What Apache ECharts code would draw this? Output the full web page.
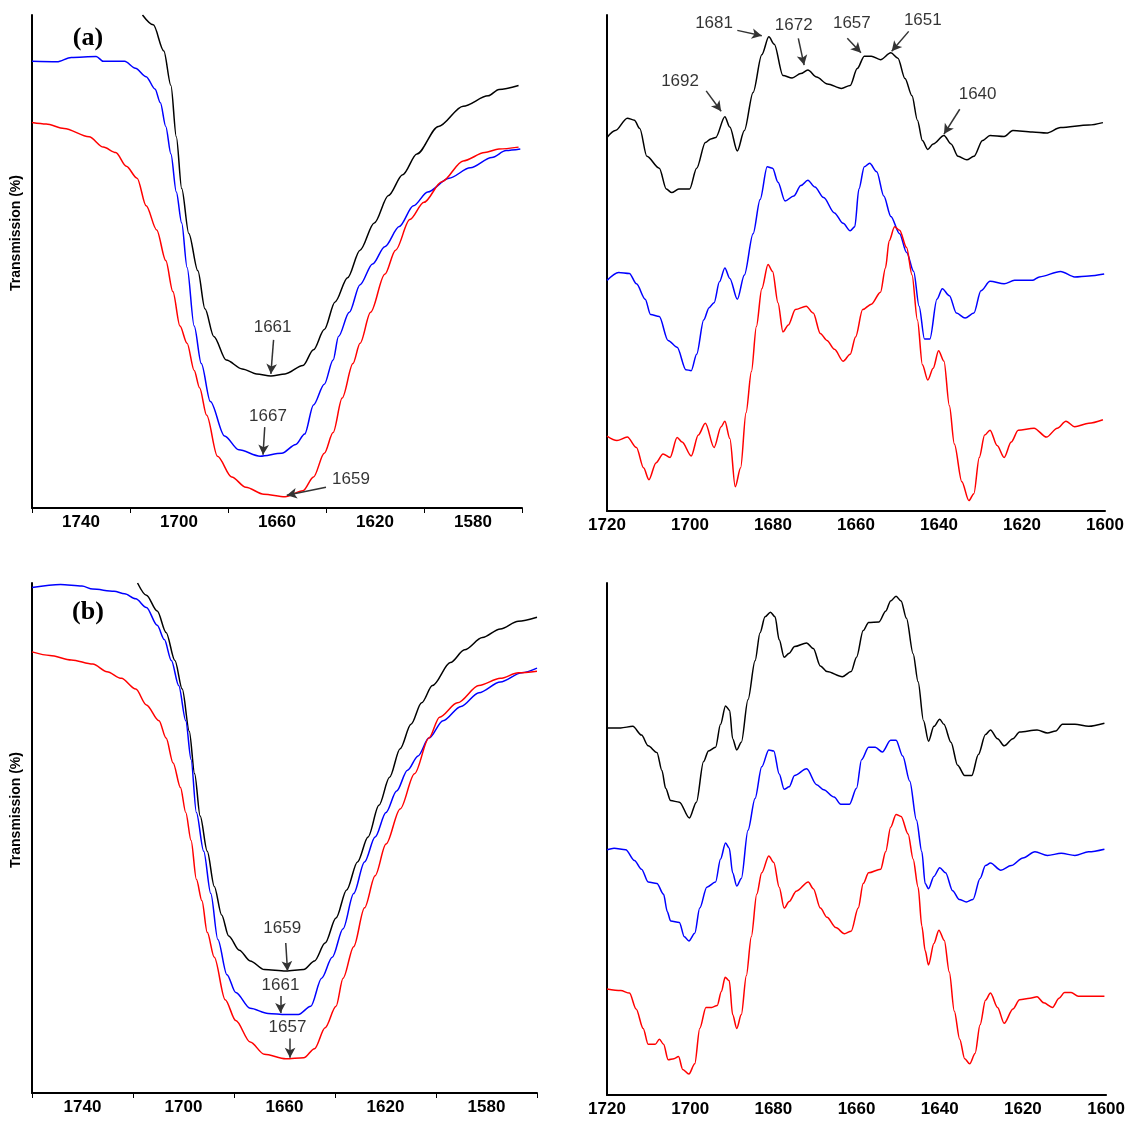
<!DOCTYPE html>
<html>
<head>
    <meta charset="utf-8">
    <title>FTIR amide I</title>
    <script src="https://cdn.jsdelivr.net/npm/echarts@6/dist/echarts.min.js"></script>
</head>
<body style="margin:0;background:#fff">
    <div id="main" style="width:1128px;height:1124px;"></div>
    <script type="text/javascript">
        // tick positions (cm-1)
        const leftTickMarks = [1760, 1720, 1680, 1640, 1600, 1560]
        const leftTickLabels = [1740, 1700, 1660, 1620, 1580]
        const rightTickLabels = [1720, 1700, 1680, 1660, 1640, 1620, 1600]

        // (a) original spectra, [wavenumber, relative transmission]
        const aLeftBlack = [[1714.9, 100], [1710.5, 98], [1706.2, 92.7], [1703.3, 85.7], [1701.1, 75.3], [1698.9, 64.8], [1696.0, 55.7], [1692.3, 48.1], [1689.4, 40.4], [1685.8, 34.8], [1680.7, 30.0], [1674.2, 28.2], [1668.3, 27.2], [1662.5, 26.8], [1656.7, 27.2], [1649.4, 28.9], [1645.1, 32.1], [1640.7, 36.2], [1636.3, 41.8], [1631.2, 46.7], [1626.1, 52.3], [1620.3, 57.8], [1614.5, 63.4], [1608.7, 67.6], [1602.9, 71.8], [1594.1, 77.4], [1584.0, 81.5], [1573.8, 83.6], [1569.4, 84.9], [1561.4, 85.7]]
        const aLeftBlue = [[1760, 90.6], [1749.8, 90.5], [1744, 91.4], [1733.8, 91.6], [1730.9, 90.6], [1722.2, 90.6], [1717.8, 89.2], [1713.4, 87.5], [1709.8, 85.0], [1707.6, 82.2], [1705.4, 77.4], [1703.3, 71.8], [1701.1, 64.1], [1698.9, 57.8], [1696.7, 48.8], [1693.8, 36.9], [1690.9, 29.3], [1687.2, 21.6], [1681.4, 14.6], [1675.6, 11.8], [1666.9, 10.5], [1658.1, 11.1], [1652.3, 12.9], [1648.7, 15.0], [1645.1, 20.9], [1640.7, 25.1], [1637.1, 30.0], [1634.9, 34.8], [1630.5, 39.7], [1626.1, 45.3], [1621.0, 49.5], [1616.0, 53.0], [1610.1, 57.1], [1604.3, 61.3], [1598.5, 64.1], [1589.8, 66.9], [1581.1, 69.0], [1572.3, 71.1], [1566.5, 72.5], [1560.7, 72.8]]
        const aLeftRed = [[1760, 78.2], [1754.2, 77.9], [1746.9, 77.0], [1736.7, 75.3], [1730.9, 73.2], [1725.8, 72.1], [1721.5, 69.3], [1717.1, 66.9], [1713.4, 61.3], [1709.1, 56.4], [1705.4, 50.2], [1702.5, 43.9], [1699.6, 36.9], [1696.7, 33.4], [1693.8, 27.9], [1691.6, 24.4], [1688.7, 18.8], [1684.3, 10.5], [1678.5, 6.3], [1672.7, 4.2], [1665.4, 2.8], [1656.7, 2.3], [1649.4, 3.5], [1645.1, 6.3], [1640.7, 11.1], [1637.1, 15.3], [1633.4, 22.3], [1629.0, 29.3], [1626.1, 33.4], [1621.8, 39.7], [1616.0, 47.4], [1611.6, 52.3], [1605.8, 58.5], [1600.0, 62.0], [1592.7, 66.2], [1584.0, 70.4], [1575.2, 72.1], [1569.4, 72.8], [1561.4, 73.2]]

        // (a) second derivative spectra
        const aRightBlack = [[1720, 75.3], [1718.0, 76.7], [1715.1, 79.2], [1713.4, 78.8], [1712.1, 77.1], [1710.4, 71.5], [1707.4, 69.1], [1705.7, 64.9], [1704.4, 64.2], [1702.7, 64.9], [1700.1, 64.9], [1698.4, 69.1], [1696.3, 74.3], [1695.0, 75.0], [1693.8, 75.3], [1691.6, 79.5], [1690.4, 77.4], [1688.6, 72.6], [1686.9, 76.7], [1684.8, 84.4], [1682.7, 92.0], [1681.0, 95.6], [1679.7, 94.1], [1677.6, 87.8], [1675.4, 87.3], [1673.3, 88.2], [1671.6, 88.9], [1669.5, 87.5], [1666.9, 86.1], [1663.5, 85.2], [1661.4, 85.8], [1659.7, 89.2], [1658.0, 91.7], [1656.3, 91.7], [1654.1, 91.0], [1651.6, 92.4], [1649.9, 91.3], [1648.2, 87.2], [1646.5, 83.7], [1645.2, 78.8], [1644.0, 74.7], [1642.7, 72.9], [1641.4, 74.0], [1638.8, 75.7], [1637.1, 74.0], [1635.4, 71.5], [1633.3, 70.8], [1631.6, 71.5], [1629.5, 74.7], [1627.7, 75.7], [1624.3, 75.5], [1622.2, 76.7], [1617.5, 76.4], [1614.1, 76.2], [1610.7, 77.3], [1603.9, 77.8], [1600.5, 78.3]]
        const aRightBlue = [[1720, 46.5], [1717.2, 48.1], [1714.6, 47.9], [1712.9, 45.8], [1710.8, 42.7], [1709.5, 39.6], [1707.4, 39.2], [1705.3, 34.4], [1703.1, 33.0], [1701.0, 28.5], [1699.7, 28.3], [1698.4, 31.6], [1696.7, 38.5], [1695.4, 41.0], [1694.2, 42.0], [1692.9, 46.2], [1691.6, 49.0], [1690.4, 46.9], [1688.6, 42.7], [1686.9, 47.6], [1684.8, 55.9], [1683.1, 62.8], [1681.4, 69.4], [1680.1, 69.1], [1678.8, 66.3], [1677.1, 62.5], [1675.0, 63.5], [1673.3, 65.6], [1671.6, 66.7], [1669.9, 65.3], [1667.8, 63.2], [1665.2, 60.1], [1663.1, 58.0], [1661.4, 56.5], [1660.3, 57.3], [1659.3, 64.9], [1658.0, 69.4], [1656.7, 70.1], [1655.0, 68.4], [1653.3, 63.5], [1651.6, 59.4], [1649.5, 55.9], [1647.8, 52.1], [1646.1, 48.3], [1644.8, 41.3], [1643.5, 34.7], [1642.2, 34.7], [1640.5, 42.7], [1639.2, 44.8], [1637.5, 43.4], [1635.8, 39.9], [1633.7, 38.9], [1631.6, 39.9], [1629.9, 44.4], [1627.7, 46.3], [1624.3, 45.8], [1621.8, 46.5], [1617.5, 46.5], [1615.8, 47.2], [1610.7, 48.3], [1607.3, 47.2], [1603.9, 47.4], [1600.2, 47.8]]
        const aRightRed = [[1720, 15.1], [1717.6, 14.2], [1715.1, 14.9], [1712.9, 12.8], [1711.2, 8.7], [1709.9, 6.3], [1708.2, 9.7], [1706.5, 11.5], [1704.8, 10.8], [1703.1, 14.8], [1701.9, 13.9], [1699.7, 11.1], [1698.0, 15.3], [1696.3, 17.7], [1694.2, 12.8], [1692.5, 17.0], [1691.6, 18.1], [1690.4, 14.6], [1689.1, 4.9], [1687.8, 8.7], [1686.5, 19.8], [1685.2, 28.1], [1684.0, 37.2], [1682.7, 44.8], [1681.2, 49.7], [1680.1, 48.3], [1678.8, 42.0], [1677.6, 36.1], [1676.3, 37.5], [1674.6, 40.6], [1672.0, 41.3], [1670.3, 39.9], [1668.6, 35.8], [1667.0, 34.4], [1665.2, 32.6], [1663.1, 30.2], [1661.4, 31.6], [1660.1, 35.1], [1658.4, 40.6], [1656.3, 41.7], [1654.1, 44.1], [1652.9, 49.0], [1652.0, 54.5], [1650.7, 57.3], [1649.5, 56.6], [1647.8, 53.1], [1646.5, 47.6], [1645.2, 38.5], [1644.0, 29.5], [1642.7, 26.4], [1641.4, 28.8], [1640.1, 32.3], [1638.8, 30.2], [1637.5, 21.2], [1636.3, 13.5], [1634.5, 5.9], [1632.8, 2.1], [1631.6, 3.5], [1630.3, 10.8], [1629.0, 15.3], [1627.7, 16.3], [1626.0, 13.2], [1624.3, 10.8], [1622.6, 13.9], [1620.9, 16.3], [1617.1, 16.7], [1614.1, 14.9], [1611.5, 16.7], [1609.4, 18.1], [1607.3, 17.0], [1603.9, 17.7], [1600.5, 18.4]]

        // (b) original spectra
        const bLeftBlack = [[1718.2, 100], [1714.7, 97.6], [1710.4, 94.5], [1706.9, 90.3], [1703.4, 84.8], [1700.5, 79.2], [1697.7, 70.9], [1695.6, 62.6], [1693.4, 54.3], [1690.6, 47.4], [1687.8, 40.5], [1684.9, 34.9], [1682.1, 30.8], [1677.9, 28.0], [1673.6, 25.9], [1668.0, 24.2], [1659.5, 23.9], [1652.4, 24.2], [1648.1, 25.9], [1643.9, 29.4], [1639.6, 34.3], [1635.4, 39.8], [1631.1, 45.3], [1626.9, 50.2], [1622.6, 56.4], [1618.4, 61.9], [1614.2, 67.5], [1609.9, 72.3], [1605.7, 76.5], [1601.4, 79.9], [1594.3, 84.4], [1588.7, 86.9], [1581.6, 89.3], [1574.5, 91.0], [1567.4, 92.5], [1560, 93.3]]
        const bLeftBlue = [[1760, 99.1], [1748.7, 99.7], [1740.2, 99.4], [1736.0, 98.8], [1727.5, 98.4], [1723.3, 97.9], [1718.9, 96.9], [1714.7, 95.2], [1710.4, 91.7], [1707.6, 88.9], [1704.8, 84.8], [1701.9, 79.9], [1699.1, 73.0], [1697.0, 65.4], [1694.9, 55.0], [1692.0, 47.4], [1689.2, 39.1], [1686.4, 30.1], [1682.8, 23.2], [1679.3, 19.7], [1673.6, 16.6], [1666.5, 15.6], [1659.5, 15.4], [1654.5, 15.4], [1649.6, 17.0], [1645.3, 22.5], [1641.1, 26.6], [1636.8, 32.2], [1632.6, 39.1], [1628.3, 45.3], [1624.1, 50.2], [1619.8, 55.0], [1615.6, 59.2], [1611.3, 63.3], [1607.1, 66.1], [1602.8, 69.6], [1597.2, 73.0], [1590.1, 75.8], [1583.0, 78.5], [1574.5, 80.6], [1566.0, 82.4], [1560, 83.3]]
        const bLeftRed = [[1760, 86.5], [1752.9, 85.8], [1744.4, 84.9], [1735.9, 84.1], [1730.3, 82.6], [1724.6, 81.3], [1718.9, 79.2], [1714.7, 76.1], [1709.7, 73.0], [1706.9, 69.6], [1704.1, 64.7], [1701.2, 59.9], [1699.1, 55.0], [1697.0, 49.5], [1694.9, 41.9], [1692.7, 37.7], [1690.6, 31.5], [1687.8, 26.6], [1683.5, 18.3], [1679.3, 14.2], [1673.6, 10.0], [1668.0, 7.6], [1659.5, 6.7], [1652.4, 6.9], [1648.1, 8.7], [1643.9, 12.8], [1639.6, 17.0], [1636.8, 22.5], [1632.6, 28.7], [1628.3, 36.3], [1624.1, 42.6], [1619.8, 48.8], [1614.2, 55.7], [1608.5, 62.6], [1602.8, 69.6], [1598.6, 73.7], [1591.5, 76.5], [1583.0, 79.9], [1574.5, 81.3], [1567.4, 82.4], [1560, 82.7]]

        // (b) second derivative spectra
        const bRightBlack = [[1720, 71.7], [1716.7, 71.7], [1713.8, 72.0], [1711.7, 70.3], [1710.1, 68.2], [1708.0, 66.9], [1706.8, 63.4], [1705.9, 59.9], [1704.7, 57.5], [1702.6, 57.2], [1700.2, 54.1], [1698.5, 57.2], [1696.8, 65.1], [1695.6, 67.2], [1693.9, 67.9], [1692.7, 72.4], [1691.5, 76.0], [1690.5, 75.1], [1689.8, 69.6], [1688.8, 67.4], [1687.7, 68.9], [1686.1, 77.2], [1684.4, 84.8], [1683.2, 90.3], [1682.0, 93.4], [1680.7, 94.3], [1679.6, 93.4], [1678.6, 88.9], [1677.4, 85.5], [1676.2, 86.3], [1674.9, 87.6], [1672.0, 88.3], [1670.4, 87.2], [1668.7, 83.8], [1667.1, 82.7], [1663.4, 81.7], [1661.3, 82.7], [1660.0, 85.5], [1658.4, 90.7], [1657.1, 92.3], [1654.6, 92.4], [1653.0, 94.5], [1651.8, 96.5], [1650.5, 97.4], [1649.3, 96.5], [1648.0, 93.1], [1646.4, 86.2], [1645.2, 80.7], [1643.9, 73.1], [1642.7, 69.1], [1641.4, 72.0], [1640.0, 73.4], [1639.0, 72.4], [1637.3, 68.9], [1635.7, 64.4], [1634.0, 62.4], [1632.3, 62.4], [1630.7, 66.5], [1629.0, 70.4], [1627.8, 71.3], [1626.1, 69.6], [1624.5, 68.2], [1622.4, 69.6], [1620.8, 70.9], [1616.6, 71.3], [1614.1, 70.7], [1612.1, 71.1], [1610.5, 72.4], [1607.5, 72.4], [1604.2, 72.0], [1600.4, 72.6]]
        const bRightBlue = [[1720, 47.9], [1718.3, 48.2], [1715.5, 47.9], [1713.4, 45.8], [1711.7, 44.1], [1710.1, 41.6], [1708.0, 41.3], [1706.4, 39.2], [1705.5, 35.8], [1704.7, 34.0], [1702.6, 33.7], [1701.4, 30.9], [1700.3, 30.1], [1698.9, 31.6], [1697.7, 36.5], [1696.0, 40.6], [1693.9, 41.6], [1692.7, 46.1], [1691.5, 49.2], [1690.6, 48.2], [1689.8, 43.4], [1688.8, 40.8], [1687.7, 42.3], [1686.1, 51.7], [1684.4, 57.9], [1682.8, 64.1], [1681.1, 67.4], [1679.9, 67.2], [1678.6, 62.7], [1677.4, 59.7], [1676.2, 60.2], [1674.9, 62.4], [1672.0, 63.7], [1669.6, 60.6], [1667.9, 59.6], [1665.4, 58.2], [1663.8, 56.8], [1661.7, 56.8], [1660.0, 59.9], [1658.8, 65.5], [1657.1, 67.9], [1655.5, 67.9], [1653.8, 67.0], [1651.8, 69.3], [1650.5, 69.3], [1648.9, 66.2], [1647.2, 61.3], [1645.6, 53.7], [1644.3, 47.5], [1643.5, 41.3], [1642.7, 40.3], [1641.4, 42.7], [1640.0, 44.4], [1638.6, 43.4], [1636.9, 39.9], [1635.3, 38.2], [1633.6, 37.7], [1632.0, 38.2], [1630.3, 42.3], [1629.0, 44.8], [1627.8, 45.3], [1625.3, 43.9], [1622.8, 44.8], [1620.0, 46.3], [1617.1, 47.5], [1614.1, 46.8], [1610.8, 47.2], [1607.5, 46.8], [1604.2, 47.5], [1600.4, 48.0]]
        const bRightRed = [[1720, 20.7], [1716.7, 20.4], [1714.6, 19.9], [1713.0, 16.8], [1711.3, 13.0], [1710.1, 9.9], [1708.4, 9.9], [1707.4, 10.9], [1706.4, 9.9], [1705.3, 6.9], [1703.9, 7.1], [1702.8, 7.5], [1701.8, 5.0], [1700.3, 4.1], [1698.9, 6.1], [1697.7, 13.0], [1696.2, 17.1], [1694.8, 17.1], [1693.5, 17.5], [1692.5, 20.2], [1691.6, 23.0], [1690.6, 22.3], [1689.8, 15.7], [1688.8, 13.0], [1687.7, 15.7], [1686.5, 23.3], [1685.3, 30.9], [1684.0, 39.2], [1682.8, 43.4], [1681.1, 46.7], [1679.9, 45.4], [1678.6, 40.6], [1677.4, 36.5], [1676.2, 37.8], [1674.5, 39.8], [1671.6, 41.6], [1670.4, 40.3], [1668.7, 36.5], [1667.1, 34.7], [1665.0, 32.7], [1662.9, 31.5], [1661.3, 32.0], [1659.6, 36.5], [1658.4, 41.3], [1657.1, 43.4], [1654.2, 44.1], [1653.0, 47.5], [1651.8, 52.3], [1650.5, 54.8], [1649.3, 54.4], [1647.6, 51.0], [1646.4, 46.1], [1645.2, 40.6], [1644.3, 33.0], [1643.5, 28.2], [1642.7, 25.4], [1641.4, 29.6], [1640.2, 32.2], [1638.9, 30.2], [1637.7, 24.0], [1636.5, 16.4], [1635.2, 10.9], [1634.0, 7.1], [1632.8, 6.1], [1631.5, 8.1], [1630.3, 13.7], [1629.0, 18.5], [1627.8, 19.9], [1626.1, 17.1], [1624.5, 14.0], [1622.4, 16.8], [1620.8, 18.6], [1618.3, 18.9], [1616.6, 19.2], [1615.0, 18.0], [1612.9, 17.1], [1611.3, 18.9], [1610.0, 20.0], [1608.4, 20.0], [1606.7, 19.3], [1600.4, 19.3]]

        // peak annotations: text, text position, arrow start, arrow end
        const aLeftNotes = [
            ['1661', [1661.8, 36.6], [1661.4, 34.1], [1662.5, 27.2]],
            ['1667', [1663.7, 18.5], [1665.0, 16.4], [1665.7, 10.8]],
            ['1659', [1629.8, 5.9], [1640.0, 4.2], [1656.0, 2.6]]
        ]
        const aRightNotes = [
            ['1681', [1694.2, 98.3], [1688.6, 96.9], [1682.7, 95.8]],
            ['1672', [1675.0, 97.9], [1673.9, 95.3], [1672.5, 89.9]],
            ['1657', [1661.0, 98.3], [1662.1, 95.3], [1658.8, 92.4]],
            ['1651', [1643.9, 99.0], [1647.3, 96.7], [1651.4, 92.7]],
            ['1692', [1702.4, 86.6], [1696.1, 84.7], [1692.5, 80.6]],
            ['1640', [1630.7, 84.0], [1635.0, 81.0], [1638.8, 76.0]]
        ]
        const bLeftNotes = [
            ['1659', [1660.9, 32.2], [1659.5, 29.4], [1658.8, 23.9]],
            ['1661', [1661.6, 21.1], [1661.6, 19.0], [1661.6, 15.7]],
            ['1657', [1658.8, 12.8], [1657.8, 10.7], [1657.8, 6.9]]
        ]

        var myChart = echarts.init(document.getElementById('main'));

        const labelFont = { color: '#000', fontFamily: 'Liberation Sans', fontSize: 17, fontWeight: 'bold' }
        const plain = (v) => String(v)

        const leftX = (gi) => ({
            type: 'value', gridIndex: gi, min: 1560, max: 1760, inverse: true,
            axisLine: { lineStyle: { color: '#000', width: 2 } },
            axisTick: { show: true, customValues: leftTickMarks, length: 5, lineStyle: { color: '#000', width: 1 } },
            axisLabel: Object.assign({ customValues: leftTickLabels, margin: 6, formatter: plain }, labelFont),
            splitLine: { show: false }
        })
        const rightX = (gi) => ({
            type: 'value', gridIndex: gi, min: 1600, max: 1720, inverse: true, interval: 20,
            axisLine: { lineStyle: { color: '#000', width: 2 } },
            axisTick: { show: false },
            axisLabel: Object.assign({ customValues: rightTickLabels, margin: 6, formatter: plain }, labelFont),
            splitLine: { show: false }
        })
        const yAx = (gi) => ({
            type: 'value', gridIndex: gi, min: 0, max: 100,
            axisLine: { show: true, lineStyle: { color: '#000', width: 2 } },
            axisTick: { show: false }, axisLabel: { show: false }, splitLine: { show: false }
        })

        const line = (data, color, gi) => ({
            type: 'line', xAxisIndex: gi, yAxisIndex: gi, data: data,
            symbol: 'none', smooth: 0.3, smoothMonotone: 'x',
            lineStyle: { color: color, width: 1.5 }, itemStyle: { color: color }
        })

        const notes = (list, gi) => ({
            type: 'scatter', xAxisIndex: gi, yAxisIndex: gi, symbolSize: 0.01,
            itemStyle: { color: 'rgba(0,0,0,0)' }, silent: true,
            data: list.map(n => ({ name: n[0], value: n[1] })),
            label: {
                show: true, position: 'inside', formatter: '{b}', align: 'center', verticalAlign: 'middle',
                color: '#000', fontFamily: 'Liberation Sans', fontSize: 17
            },
            markLine: {
                silent: true, symbol: ['none', 'arrow'], symbolSize: [8, 10],
                lineStyle: { color: '#333', width: 1.5, type: 'solid' },
                label: { show: false },
                data: list.map(n => [{ coord: n[2] }, { coord: n[3] }])
            }
        })

        var option = {
            animation: false,
            backgroundColor: '#fff',
            grid: [
                { left: 32, top: 15, width: 490, height: 493 },
                { left: 607, top: 15, width: 498, height: 496 },
                { left: 32, top: 583, width: 505, height: 510 },
                { left: 607, top: 583, width: 508, height: 512 }
            ],
            xAxis: [leftX(0), rightX(1), leftX(2), rightX(3)],
            yAxis: [yAx(0), yAx(1), yAx(2), yAx(3)],
            graphic: [
                { type: 'text', x: 88, y: 38, style: { text: '(a)', font: 'bold 26px "Liberation Serif"', fill: '#000', textAlign: 'center', textVerticalAlign: 'middle' } },
                { type: 'text', x: 88, y: 612, style: { text: '(b)', font: 'bold 26px "Liberation Serif"', fill: '#000', textAlign: 'center', textVerticalAlign: 'middle' } },
                { type: 'text', x: 16, y: 233, rotation: Math.PI / 2, style: { text: 'Transmission (%)', font: 'bold 14px "Liberation Sans"', fill: '#000', textAlign: 'center', textVerticalAlign: 'middle' } },
                { type: 'text', x: 16, y: 810, rotation: Math.PI / 2, style: { text: 'Transmission (%)', font: 'bold 14px "Liberation Sans"', fill: '#000', textAlign: 'center', textVerticalAlign: 'middle' } }
            ],
            series: [
                line(aLeftBlack, '#000000', 0), line(aLeftBlue, '#0000ff', 0), line(aLeftRed, '#ff0000', 0),
                line(aRightBlack, '#000000', 1), line(aRightBlue, '#0000ff', 1), line(aRightRed, '#ff0000', 1),
                line(bLeftBlack, '#000000', 2), line(bLeftBlue, '#0000ff', 2), line(bLeftRed, '#ff0000', 2),
                line(bRightBlack, '#000000', 3), line(bRightBlue, '#0000ff', 3), line(bRightRed, '#ff0000', 3),
                notes(aLeftNotes, 0), notes(aRightNotes, 1), notes(bLeftNotes, 2)
            ]
        };

        myChart.setOption(option);
    </script>
</body>
</html>
